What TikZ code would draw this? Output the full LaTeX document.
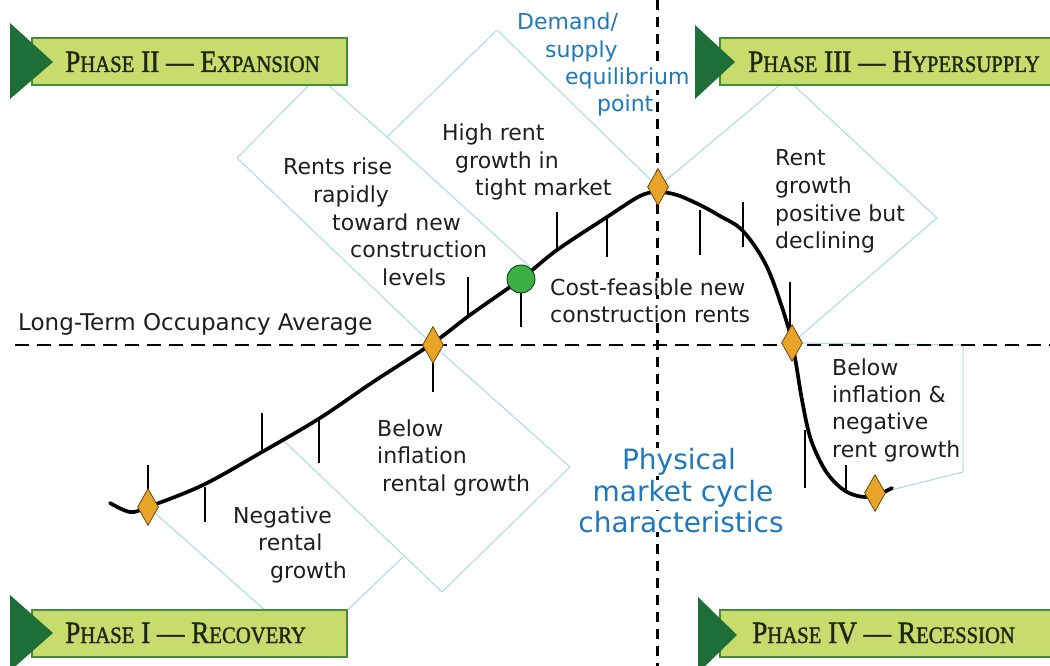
\documentclass[tikz,border=0pt]{standalone}
\usepackage{fontspec}
\usepackage{graphicx}
\usetikzlibrary{shapes.geometric}
\newfontfamily\lab{DejaVu Sans}
\newfontfamily\bannerfont[FakeBold=1.5]{Liberation Serif}
\definecolor{ltblue}{RGB}{165,218,232}
\definecolor{txtgray}{RGB}{30,30,30}
\definecolor{bluetxt}{RGB}{30,120,190}
\definecolor{dkgreen}{RGB}{30,110,55}
\definecolor{ltgreen}{RGB}{200,220,110}
\definecolor{bordgreen}{RGB}{70,140,60}
\definecolor{bantxt}{RGB}{30,40,20}
\definecolor{orng}{RGB}{232,164,40}
\definecolor{orngdark}{RGB}{110,70,10}
\definecolor{dotgreen}{RGB}{60,176,70}
\newcommand\smc[1]{{\fontsize{23.5}{23.5}\selectfont #1}}
\begin{document}
\begin{tikzpicture}[x=1pt,y=-1pt,
  lab/.style={font=\lab\fontsize{22}{26}\selectfont, text=txtgray, inner sep=0pt, anchor=base west},
  blab/.style={lab, text=bluetxt},
  tickline/.style={line width=1.5pt, black},
  lb/.style={draw=ltblue, line width=1pt, line join=round},
  dsh/.style={line width=2.5pt, dash pattern=on 14pt off 8pt},
  vdsh/.style={line width=3pt, dash pattern=on 10pt off 7pt},
  dmd/.style={diamond, fill=orng, draw=orngdark, line width=0.8pt, minimum width=21pt, minimum height=37pt, inner sep=0pt},
  tri/.style={fill=dkgreen},
  banner/.style={fill=ltgreen, draw=bordgreen, line width=2pt},
  bantext/.style={font=\bannerfont\fontsize{31}{31}\selectfont, text=bantxt, inner sep=0pt, anchor=base west}
]
\useasboundingbox (0,0) rectangle (1050,666);

% key points
\coordinate (p1) at (148,507);
\coordinate (p2) at (433,345);
\coordinate (p3) at (658,187);
\coordinate (p4) at (792,343);
\coordinate (p5) at (875,493);
\coordinate (pc) at (521,279);

% light blue outline shapes
\draw[lb] (p1) -- (308,648) -- (403,557);
\draw[lb] (283,440) -- (442,592) -- (570,467) -- (p2);
\draw[lb] (p2) -- (237,158) -- (318,76) -- (387,137) -- (530,267);
\draw[lb] (387,137) -- (497,30) -- (p3);
\draw[lb] (p3) -- (787,79) -- (937,218) -- (p4);
\draw[lb] (p4) -- (963,345) -- (963,472) -- (891,490);

% dashed reference lines
\coordinate (hl) at (15,345);
\coordinate (hr) at (1050,345);
\coordinate (vt) at (657,0);
\coordinate (vb) at (657,666);
\draw[dsh] (hl) -- (hr);
\draw[vdsh] (vt) -- (vb);

% ticks
\foreach \x/\a/\b in {148/465/495, 205/487/522, 262/413/452, 319/417/463, 433/360/392,
  468/277/317, 521/293/327, 557/212/250, 607/217/257, 700/210/255, 743/202/247,
  790/282/335, 805/430/488, 846/465/492}
  \draw[tickline] (\x,\a) -- (\x,\b);

% curve
\draw[line width=3.7pt, line cap=round, line join=round] plot[smooth, tension=0.55] coordinates {
  (110,503) (130,512) (148,507) (203,485) (262,452) (320,418) (373,382) (433,343)
  (470,315) (521,279) (557,250) (607,217) (640,196) (658,192) (677,195) (700,205)
  (720,216) (743,231) (767,267) (787,323) (795,358) (802,400) (811,440) (827,473)
  (847,492) (870,497) (892,488)};

% markers
\node[dmd] (D1) at (p1) {};
\node[dmd] (D2) at (p2) {};
\node[dmd] (D3) at (p3) {};
\node[dmd] (D4) at (p4) {};
\node[dmd] (D5) at (p5) {};
\node[circle, fill=dotgreen, draw=black!80!green, line width=0.8pt, minimum size=28pt, inner sep=0pt] (C) at (pc) {};

% labels
\node[lab, font=\lab\fontsize{23}{26}\selectfont] (lt) at (18,330) {Long-Term Occupancy Average};

\node[blab, fill=white] (dm1) at (517,30) {Demand/};
\node[blab, fill=white] (dm2) at (545,57.5) {supply};
\node[blab, fill=white] (dm3) at (565,85) {equilibrium};
\node[blab, fill=white] (dm4) at (597,112) {point};

\node[lab] (r1) at (283,175) {Rents rise};
\node[lab] (r2) at (313,202.5) {rapidly};
\node[lab] (r3) at (332,230) {toward new};
\node[lab] (r4) at (350,257.5) {construction};
\node[lab] (r5) at (382,285) {levels};

\node[lab] (h1) at (442,141) {High rent};
\node[lab] (h2) at (455,168.5) {growth in};
\node[lab] (h3) at (475,196) {tight market};

\node[lab, fill=white] (c1) at (550,295) {Cost-feasible new};
\node[lab, fill=white] (c2) at (550,322) {construction rents};

\node[lab] (g1) at (775,166) {Rent};
\node[lab] (g2) at (775,193.5) {growth};
\node[lab] (g3) at (775,221) {positive but};
\node[lab] (g4) at (775,248.5) {declining};

\node[lab] (b1) at (832,375) {Below};
\node[lab] (b2) at (832,402) {inflation \&};
\node[lab] (b3) at (832,429.5) {negative};
\node[lab] (b4) at (832,457) {rent growth};

\node[lab] (i1) at (377,436) {Below};
\node[lab] (i2) at (377,463.5) {inflation};
\node[lab] (i3) at (382,491) {rental growth};

\node[lab] (n1) at (233,523) {Negative};
\node[lab] (n2) at (258,550.5) {rental};
\node[lab] (n3) at (270,578) {growth};

\node[blab, fill=white, font=\lab\fontsize{28}{32}\selectfont, anchor=base] (m1) at (679,469) {Physical};
\node[blab, fill=white, font=\lab\fontsize{28}{32}\selectfont, anchor=base] (m2) at (683,501) {market cycle};
\node[blab, fill=white, font=\lab\fontsize{28}{32}\selectfont, anchor=base] (m3) at (681,532) {characteristics};

% banners
\path[banner] (32,38) rectangle (347,85);
\path[tri] (10,23) -- (53,62) -- (10,99) -- cycle;
\node[bantext] (ph2) at (65,72) {\scalebox{0.88}[1]{P\smc{HASE} II — E\smc{XPANSION}}};

\path[banner] (720,38) rectangle (1053,85);
\path[tri] (695,25) -- (735,62) -- (695,99) -- cycle;
\node[bantext] (ph3) at (748,72) {\scalebox{0.88}[1]{P\smc{HASE} III — H\smc{YPERSUPPLY}}};

\path[banner] (32,610) rectangle (347,657);
\path[tri] (10,595) -- (53,633) -- (10,671) -- cycle;
\node[bantext] (ph1) at (65,643) {\scalebox{0.88}[1]{P\smc{HASE} I — R\smc{ECOVERY}}};

\path[banner] (720,610) rectangle (1053,657);
\path[tri] (698,597) -- (737,635) -- (698,673) -- cycle;
\node[bantext] (ph4) at (752,643) {\scalebox{0.88}[1]{P\smc{HASE} IV — R\smc{ECESSION}}};
\end{tikzpicture}
\end{document}
